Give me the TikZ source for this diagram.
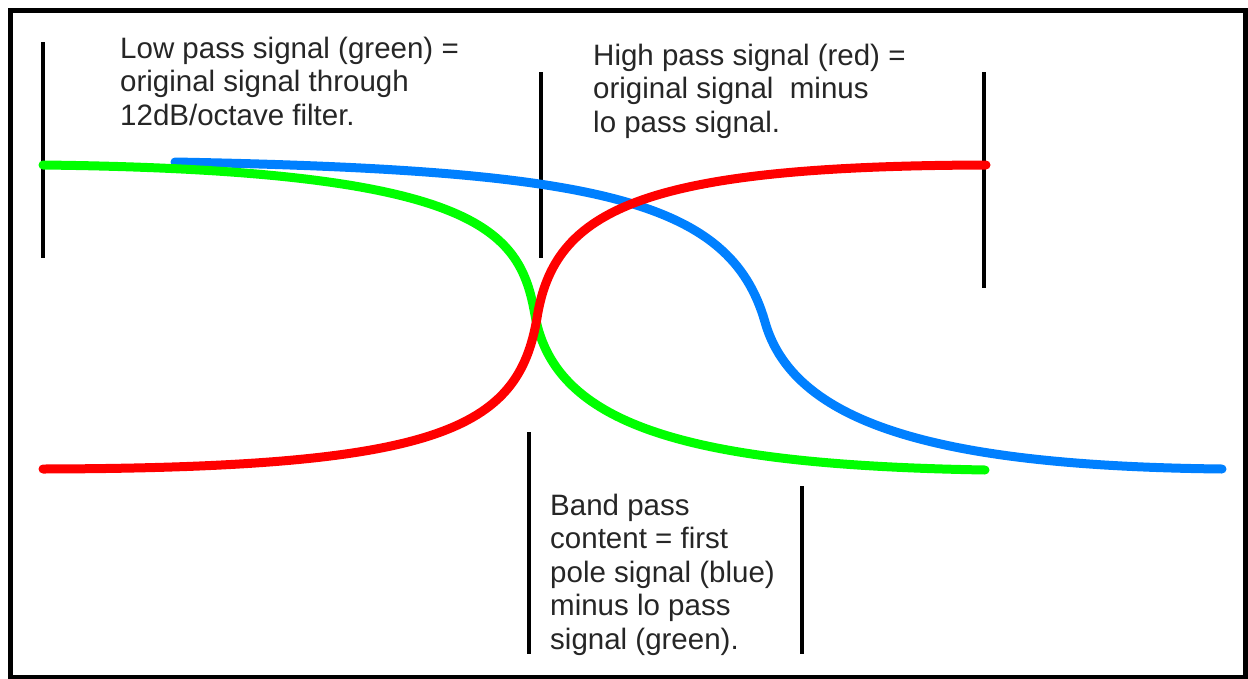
\documentclass[tikz,border=0pt]{standalone}
\usepackage{fontspec}
\setmainfont{Liberation Sans}
\definecolor{lpgreen}{RGB}{0,255,0}
\definecolor{hpred}{RGB}{255,0,0}
\definecolor{fpblue}{RGB}{0,128,255}
\begin{document}
\begin{tikzpicture}[x=1pt,y=-1pt,
  curve/.style={line width=9pt,line cap=round},
  marker/.style={line width=3.5pt},
  label/.style={anchor=base west,align=left,inner sep=0pt,
    font=\fontsize{29.5}{33.5}\selectfont,text=black!85}]
\useasboundingbox (0,0) rectangle (1248,678);
\fill[white] (0,0) rectangle (1248,678);
\begin{scope}
\clip (0,0) rectangle (1248,678);
\draw[line width=5pt] (10.5,10.5) rectangle (1245.5,677.5);
\end{scope}
% marker lines
\coordinate (m1a) at (43,42);   \coordinate (m1b) at (43,258);
\coordinate (m2a) at (541,72);  \coordinate (m2b) at (541,258);
\coordinate (m3a) at (984,72);  \coordinate (m3b) at (984,288);
\coordinate (m4a) at (529,432); \coordinate (m4b) at (529,654);
\coordinate (m5a) at (802,486); \coordinate (m5b) at (802,654);
\draw[marker] (m1a) -- (m1b);
\draw[marker] (m2a) -- (m2b);
\draw[marker] (m3a) -- (m3b);
\draw[marker] (m4a) -- (m4b);
\draw[marker] (m5a) -- (m5b);
% curves
\coordinate (g0) at (43,165);  \coordinate (gm) at (535,315); \coordinate (g1) at (985,470);
\coordinate (r0) at (43,469);  \coordinate (rm) at (537,318); \coordinate (r1) at (986,165);
\coordinate (b0) at (175,162); \coordinate (bm) at (765,322); \coordinate (b1) at (1222,469);
\draw[curve,fpblue] (b0) .. controls (600,170) and (730,200) .. (bm)
  .. controls (795,428) and (950,466) .. (b1);
\draw[curve,lpgreen] (g0) .. controls (480,170) and (520,230) .. (gm)
  .. controls (555,430) and (700,465) .. (g1);
\draw[curve,hpred] (r0) .. controls (440,468) and (518,430) .. (rm)
  .. controls (554,210) and (640,166) .. (r1);
% texts (anchor = baseline of last line)
\node[label] (lp) at (120,125) {Low pass signal (green) =\\original signal through\\12dB/octave filter.};
\node[label] (hp) at (593,132) {High pass signal (red) =\\original signal\ \ minus\\lo pass signal.};
\node[label] (bp) at (550,649) {Band pass\\content = first\\pole signal (blue)\\minus lo pass\\signal (green).};
\end{tikzpicture}
\end{document}
